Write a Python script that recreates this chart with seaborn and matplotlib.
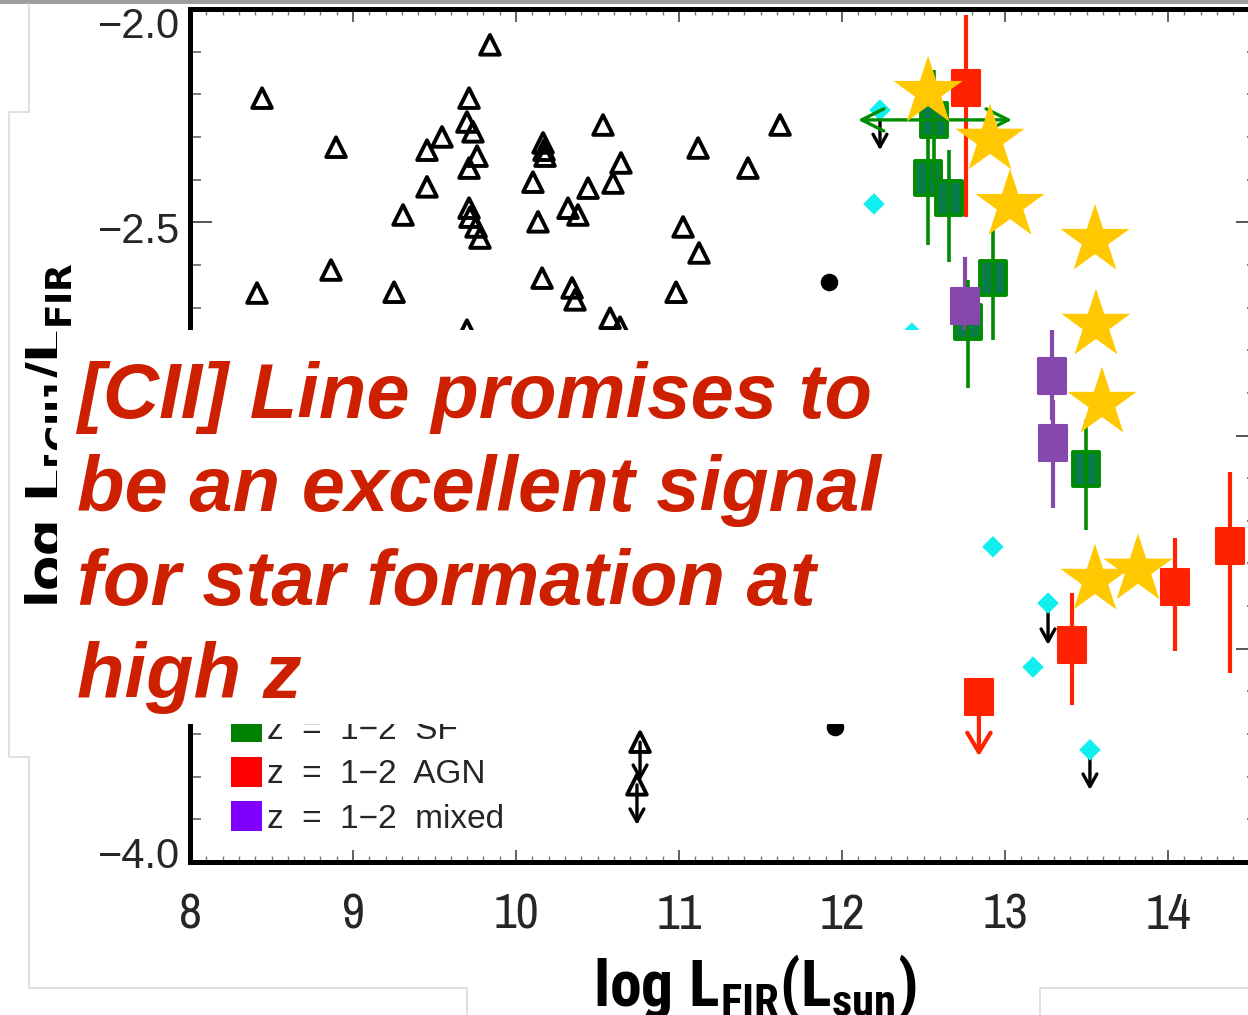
import matplotlib
matplotlib.use("Agg")
import matplotlib.pyplot as plt
import seaborn as sns
import pandas as pd
import numpy as np
from matplotlib.patches import Rectangle, Patch
from matplotlib.lines import Line2D
from matplotlib.path import Path
from matplotlib.markers import MarkerStyle
from matplotlib.ticker import MultipleLocator, FuncFormatter, FixedLocator
from matplotlib.transforms import ScaledTranslation
from matplotlib import font_manager

# ---------------- data ----------------
tri_x = [8.442, 8.896, 8.411, 8.865, 9.252, 9.307, 9.454, 9.454, 9.546, 9.712,
         9.699, 9.736, 9.761, 9.712, 9.712, 9.718, 9.755, 9.779, 9.840, 10.104,
         10.135, 10.166, 10.172, 10.178, 10.160, 10.344, 10.362, 10.319, 10.380, 10.442,
         10.534, 10.644, 10.595, 10.577, 10.638, 11.025, 11.123, 11.117, 11.423, 11.620,
         10.982, 9.699]
tri_y = [-2.209, -2.324, -2.666, -2.612, -2.664, -2.483, -2.417, -2.331, -2.300, -2.209,
         -2.265, -2.288, -2.345, -2.373, -2.467, -2.488, -2.511, -2.537, -2.084, -2.406,
         -2.499, -2.314, -2.331, -2.345, -2.631, -2.654, -2.682, -2.467, -2.483, -2.420,
         -2.272, -2.361, -2.408, -2.725, -2.746, -2.511, -2.572, -2.326, -2.373, -2.272,
         -2.664, -2.753]
tri_lim_x = [10.761, 10.742]
tri_lim_y = [-3.719, -3.819]
tri_lim_tip = [-3.810, -3.913]
circ_x = [11.920, 11.957]
circ_y = [-2.640, -3.683]
dia_x = [12.233, 12.196, 12.429, 12.926, 13.264, 13.172, 13.521]
dia_y = [-2.237, -2.457, -2.760, -3.261, -3.393, -3.543, -3.737]
dia_lim_x = [12.233, 13.264, 13.521]
dia_lim_y = [-2.237, -3.393, -3.737]
dia_lim_tip = [-2.331, -3.491, -3.831]
sf_x = [12.564, 12.528, 12.656, 12.926, 12.773, 13.497]
sf_y = [-2.260, -2.396, -2.443, -2.631, -2.734, -3.079]
sf_lo = [-2.400, -2.553, -2.593, -2.776, -2.889, -3.222]
sf_hi = [-2.143, -2.291, -2.331, -2.518, -2.635, -2.964]
sf_xrange = [12.098, 13.043]
agn_x = [12.761, 13.411, 14.043, 14.380]
agn_y = [-2.185, -3.491, -3.355, -3.259]
agn_lo = [-2.488, -3.632, -3.505, -3.557]
agn_hi = [-2.014, -3.369, -3.240, -3.086]
agn_lim_x = [12.840]
agn_lim_y = [-3.613]
agn_lim_tip = [-3.752]
mix_x = [12.755, 13.288, 13.294]
mix_y = [-2.696, -2.860, -3.018]
mix_lo = [-2.753, -2.964, -3.170]
mix_hi = [-2.581, -2.753, -2.917]
star_x = [12.528, 12.908, 13.031, 13.552, 13.558, 13.595, 13.552, 13.816]
star_y = [-2.195, -2.307, -2.460, -2.542, -2.741, -2.924, -3.339, -3.315]

legend_labels = ["z  =  1\u22122  SF", "z  =  1\u22122  AGN", "z  =  1\u22122  mixed"]
x_ticks = [8, 9, 10, 11, 12, 13, 14]
y_ticks = [-4.0, -3.5, -3.0, -2.5, -2.0]
headline = ["[CII] Line promises to", "be an excellent signal",
            "for star formation at", "high z"]

# ---------------- style ----------------
sns.set_theme(style="ticks")
plt.rcParams["font.family"] = ["Liberation Sans", "DejaVu Sans"]
allnames = {f.name for f in font_manager.fontManager.ttflist}

def pick(*cands):
    for c in cands:
        if c in allnames:
            return c
    return "Liberation Sans"

tick_font = pick("Archivo Narrow", "Roboto Condensed", "PT Sans Narrow")
label_font = pick("Roboto Condensed", "PT Sans Narrow", "Asap Condensed")
label_size = 46 if label_font != "Liberation Sans" else 38
tick_size = 36 if tick_font != "Liberation Sans" else 30
plt.rcParams["mathtext.fontset"] = "custom"
plt.rcParams["mathtext.rm"] = f"{label_font}:bold"
plt.rcParams["mathtext.it"] = f"{label_font}:bold"
plt.rcParams["mathtext.bf"] = f"{label_font}:bold"

W, H = 1248, 1015
fig = plt.figure(figsize=(W / 100, H / 100), dpi=100)
fig.patch.set_facecolor("white")
ax_l, ax_r, ax_t, ax_b = 190, 1258, 9, 862
ax = fig.add_axes([ax_l / W, 1 - ax_b / H, (ax_r - ax_l) / W, (ax_b - ax_t) / H])
ax.set_facecolor("white")
ax.set_xlim(8, 8 + (ax_r - ax_l) / 163.0)
ax.set_ylim(-4.0, -2.0)

rect = MarkerStyle(Path([(-0.39, -0.5), (0.39, -0.5), (0.39, 0.5), (-0.39, 0.5), (-0.39, -0.5)],
                        [Path.MOVETO, Path.LINETO, Path.LINETO, Path.LINETO, Path.CLOSEPOLY]))

def down_arrow(x, y0, y1, color, lw, hl, hw):
    ax.annotate("", xy=(x, y1), xytext=(x, y0),
                arrowprops=dict(arrowstyle=f"->,head_length={hl},head_width={hw}",
                                color=color, lw=lw, shrinkA=0, shrinkB=0, mutation_scale=20),
                zorder=3)

# local galaxies (open triangles)
sns.scatterplot(x=tri_x, y=tri_y, ax=ax, marker="^", s=200, facecolor="none",
                edgecolor="black", linewidth=2.8, legend=False, zorder=3)
sns.scatterplot(x=tri_lim_x, y=tri_lim_y, ax=ax, marker="^", s=200, facecolor="none",
                edgecolor="black", linewidth=2.8, legend=False, zorder=3)
for x, y0, y1 in zip(tri_lim_x, tri_lim_y, tri_lim_tip):
    down_arrow(x, y0, y1, "black", 2.4, 0.45, 0.25)

# black circles
sns.scatterplot(x=circ_x, y=circ_y, ax=ax, marker="o", s=160, color="black",
                edgecolor="black", linewidth=0, legend=False, zorder=3)

# cyan diamonds and their upper limits
for x, y0, y1 in zip(dia_lim_x, dia_lim_y, dia_lim_tip):
    down_arrow(x, y0, y1, "black", 2.4, 0.45, 0.25)
sns.scatterplot(x=dia_x, y=dia_y, ax=ax, marker="D", s=120, color="#10eeee",
                edgecolor="none", linewidth=0, legend=False, zorder=4)

# z = 1-2 SF (green)
ax.annotate("", xy=(sf_xrange[0], sf_y[0]), xytext=(sf_xrange[1], sf_y[0]),
            arrowprops=dict(arrowstyle="<->,head_length=0.8,head_width=0.4",
                            color="#008c00", lw=2.4, shrinkA=0, shrinkB=0, mutation_scale=20),
            zorder=6)
sns.scatterplot(x=sf_x, y=sf_y, ax=ax, marker=rect, s=600, color="#0a7b4a",
                edgecolor="#008c00", linewidth=2.8, legend=False, zorder=5)
ax.vlines(sf_x, sf_lo, sf_hi, color="#008c00", lw=2.6, zorder=5.5)

# z = 1-2 mixed (purple)
ax.vlines(mix_x, mix_lo, mix_hi, color="#8549ad", lw=3.0, zorder=5)
sns.scatterplot(x=mix_x, y=mix_y, ax=ax, marker=rect, s=660, color="#8549ad",
                edgecolor="#8549ad", linewidth=1.5, legend=False, zorder=5.6)

# z = 1-2 AGN (red)
ax.vlines(agn_x, agn_lo, agn_hi, color="#ff2200", lw=3.0, zorder=5)
for x, y0, y1 in zip(agn_lim_x, agn_lim_y, agn_lim_tip):
    down_arrow(x, y0, y1, "#ff2200", 3.0, 0.7, 0.42)
sns.scatterplot(x=agn_x + agn_lim_x, y=agn_y + agn_lim_y, ax=ax, marker=rect, s=660,
                color="#ff2200", edgecolor="#ff2200", linewidth=1.5, legend=False, zorder=5.6)

# high-z sources (gold stars)
sns.scatterplot(x=star_x, y=star_y, ax=ax, marker="*", s=2750, color="#ffc800",
                edgecolor="none", linewidth=0, legend=False, zorder=7)

# ---------------- axes styling ----------------
for sp in ax.spines.values():
    sp.set_linewidth(3.6)
    sp.set_color("black")
ax.xaxis.set_major_locator(FixedLocator(x_ticks))
ax.xaxis.set_minor_locator(MultipleLocator(0.1))
ax.yaxis.set_major_locator(FixedLocator(y_ticks))
ax.yaxis.set_minor_locator(MultipleLocator(0.1))
ax.xaxis.set_major_formatter(FuncFormatter(lambda v, p: f"{v:.0f}"))
ax.yaxis.set_major_formatter(FuncFormatter(lambda v, p: f"{v:.1f}".replace("-", "\u2212")))
ax.tick_params(axis="x", which="major", direction="in", length=9, width=1.3, color="#555555",
               top=True, bottom=True, pad=22, labelsize=tick_size, labelfontfamily=tick_font)
ax.tick_params(axis="x", which="minor", direction="in", length=4, width=1.0, color="#777777",
               top=True, bottom=True)
ax.tick_params(axis="y", which="major", direction="in", length=16, width=1.4, color="#555555",
               left=True, right=True, pad=7, labelsize=30)
ax.tick_params(axis="y", which="minor", direction="in", length=8, width=1.2, color="#666666",
               left=True, right=True)
y_nudge = {-2.0: 13, -2.5: 5, -3.0: 0, -3.5: -4, -4.0: -10}
for tk, v in zip(ax.yaxis.get_major_ticks(), y_ticks):
    lab = tk.label1
    lab.set_transform(lab.get_transform() +
                      ScaledTranslation(0, -y_nudge[v] / 100, fig.dpi_scale_trans))

ax.set_xlabel(r"$\mathrm{log\ L_{FIR}(L_{sun})}$", fontsize=label_size, math_fontfamily="custom",
              color="black")
ax.xaxis.set_label_coords((755 - ax_l) / (ax_r - ax_l), (ax_b - 952) / (ax_b - ax_t))
ax.set_ylabel(r"$\mathbf{log\ L_{[CII]}/L_{FIR}}$", fontsize=37, math_fontfamily="dejavusans",
              color="black")
ax.yaxis.set_label_coords((80 - ax_l) / (ax_r - ax_l), 0.5)

handles = [Patch(facecolor=c, edgecolor="none") for c in ["#008000", "#ff0000", "#7f00ff"]]
leg = ax.legend(handles, legend_labels, loc="upper left",
                bbox_to_anchor=(231 / W, 1 - 712 / H), bbox_transform=fig.transFigure,
                frameon=False, borderpad=0, borderaxespad=0, fontsize=24,
                handlelength=31 / 33.3, handleheight=34 / 33.3, handletextpad=0.15,
                labelspacing=0.33)

# ---------------- slide overlay ----------------
def px_rect(x0, y0, x1, y1, **kw):
    fig.add_artist(Rectangle((x0 / W, 1 - y1 / H), (x1 - x0) / W, (y1 - y0) / H,
                             transform=fig.transFigure, **kw))

def px_line(xs, ys, **kw):
    fig.add_artist(Line2D([x / W for x in xs], [1 - y / H for y in ys],
                          transform=fig.transFigure, **kw))

px_rect(57, 330, 940, 724, facecolor="white", edgecolor="none", zorder=10)
for i, line in enumerate(headline):
    fig.text(77 / W, 1 - (418 + i * 93.3) / H, line, fontsize=56, color="#cc2000",
             fontweight="bold", fontstyle="italic", family="Liberation Sans",
             ha="left", va="baseline", zorder=11)

px_rect(0, 0, W, 4, facecolor="#9e9e9e", edgecolor="none", zorder=12)
frame_kw = dict(color="#dadada", lw=1.2, zorder=12)
px_line([29, 29, 9, 9, 29, 29, 467, 467], [4, 112, 112, 757, 757, 988, 988, 1015], **frame_kw)
px_line([1040, 1040, 1248], [1015, 988, 988], **frame_kw)

fig.savefig("out.png", dpi=100, facecolor="white")
